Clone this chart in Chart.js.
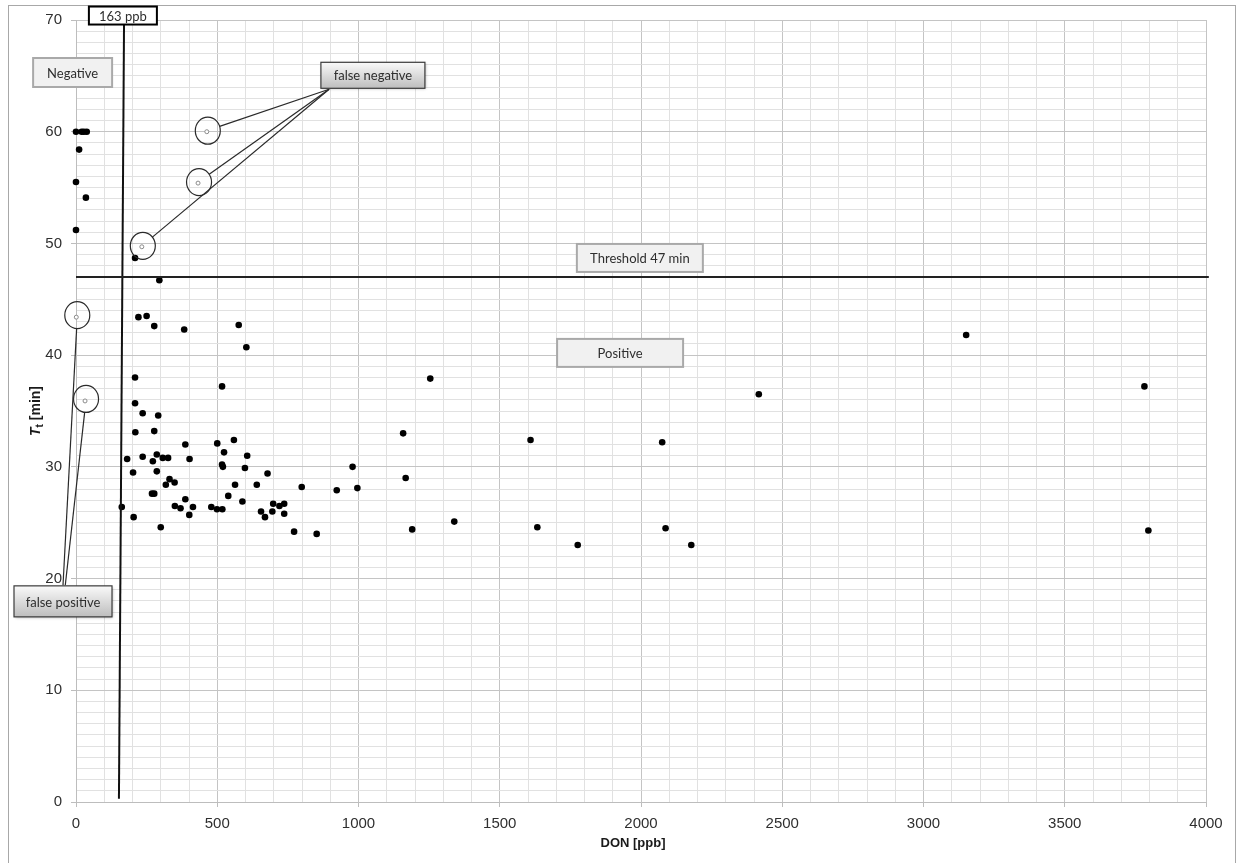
<!DOCTYPE html>
<html>
<head>
<meta charset="utf-8">
<script src="https://cdn.jsdelivr.net/npm/chart.js@4.4.1/dist/chart.umd.min.js"></script>
<style>
  body { margin: 0; background: #fff; overflow: hidden; }
  #wrap { position: relative; width: 1237px; height: 863px; }
  #frame { position: absolute; left: 8px; top: 5px; width: 1228px; height: 880px; border: 1px solid #a8a8a8; box-sizing: border-box; }
  canvas { position: absolute; left: 0; top: 0; }
</style>
</head>
<body>
<div id="wrap">
  <div id="frame"></div>
  <canvas id="chart" width="1237" height="863"></canvas>
</div>
<script>
// samples left of the cut-off (negative)
const negDon = [0, 20, 28, 38, 11, 0, 35, 0];
const negTt = [60.0, 60.0, 60.0, 60.0, 58.4, 55.5, 54.1, 51.2];

// remaining samples
const posDon = [209, 295, 221, 250, 277, 383, 576, 603, 209, 517, 209, 236, 291, 210, 277, 387, 500, 559, 524, 286,
  606, 181, 236, 307, 326, 402, 272, 517, 520, 598, 979, 202, 286, 678, 1167, 1158, 331, 349, 318, 563,
  640, 799, 996, 923, 269, 277, 539, 387, 589, 162, 350, 370, 414, 479, 499, 518, 698, 720, 737, 695,
  655, 737, 669, 401, 204, 300, 772, 852, 1190, 1254, 1339, 1609, 1633, 1776, 2075, 2087, 2178, 2417, 3151, 3782, 3796];
const posTt = [48.7, 46.7, 43.4, 43.5, 42.6, 42.3, 42.7, 40.7, 38.0, 37.2, 35.7, 34.8, 34.6, 33.1, 33.2, 32.0, 32.1, 32.4, 31.3, 31.1,
  31.0, 30.7, 30.9, 30.8, 30.8, 30.7, 30.5, 30.2, 30.0, 29.9, 30.0, 29.5, 29.6, 29.4, 29.0, 33.0, 28.9, 28.6, 28.4, 28.4,
  28.4, 28.2, 28.1, 27.9, 27.6, 27.6, 27.4, 27.1, 26.9, 26.4, 26.5, 26.3, 26.4, 26.4, 26.2, 26.2, 26.7, 26.5, 26.7, 26.0,
  26.0, 25.8, 25.5, 25.7, 25.5, 24.6, 24.2, 24.0, 24.4, 37.9, 25.1, 32.4, 24.6, 23.0, 32.2, 24.5, 23.0, 36.5, 41.8, 37.2, 24.3];

// misclassified samples (drawn hollow and circled)
const falseNegDon = [463, 432, 233];
const falseNegTt = [60.0, 55.4, 49.7];
const falsePosDon = [1, 32];
const falsePosTt = [43.4, 35.9];

// threshold lines
const thresholdTt = 47;
const thresholdDon = [0, 4010];
const cutoffDon = [152, 170];   // drawn "163 ppb" line is slightly tilted
const cutoffTt = [0.3, 69.6];

const xTicks = { min: 0, max: 4000, step: 100, major: 500 };
const yTicks = { min: 0, max: 70, step: 1, major: 10 };

// label boxes: [text, don, tt, width, height, style]
const boxes = [
  ['Negative', -12, 65.3, 79, 29, 'plain'],
  ['false negative', 1051, 65.05, 104, 26, 'shade'],
  ['Threshold 47 min', 1996, 48.7, 126, 28, 'plain'],
  ['Positive', 1926, 40.2, 126, 28, 'plain'],
  ['false positive', -46, 17.96, 98, 31, 'shade'],
  ['163 ppb', 166, 70.4, 68, 18, 'outline']
];
const falseNegTarget = [896, 63.8];
const falsePosTarget = [[-46, 19.4], [-38, 19.4]];

const toPts = (xs, ys) => xs.map((v, i) => ({ x: v, y: ys[i] }));

const annot = {
  id: 'annot',
  afterDatasetsDraw(chart) {
    const { ctx, scales: { x, y } } = chart;
    const px = v => x.getPixelForValue(v);
    const py = v => y.getPixelForValue(v);
    ctx.save();
    ctx.strokeStyle = '#2a2a2a';
    ctx.lineWidth = 1.2;

    function ring(cx, cy, targets) {
      const rx = 12.5, ry = 13.5;
      ctx.beginPath();
      ctx.ellipse(cx, cy, rx, ry, 0, 0, Math.PI * 2);
      ctx.stroke();
      targets.forEach(t => {
        const ex = px(t[0]), ey = py(t[1]);
        const a = Math.atan2(ey - cy, ex - cx);
        ctx.beginPath();
        ctx.moveTo(cx + rx * Math.cos(a), cy + ry * Math.sin(a));
        ctx.lineTo(ex, ey);
        ctx.stroke();
      });
    }
    falseNegDon.forEach((d, i) => ring(px(d) + 1, py(falseNegTt[i]) - 1, [falseNegTarget]));
    falsePosDon.forEach((d, i) => ring(px(d) + 1, py(falsePosTt[i]) - 2, [falsePosTarget[i]]));

    ctx.font = '13px Lato';
    ctx.textAlign = 'center';
    ctx.textBaseline = 'middle';
    boxes.forEach(([text, d, t, w, h, style]) => {
      const cx = px(d), cy = py(t);
      const l = cx - w / 2, tp = cy - h / 2;
      if (style === 'plain') {
        ctx.fillStyle = '#f1f1f1';
        ctx.fillRect(l, tp, w, h);
        ctx.strokeStyle = '#a9a9a9';
        ctx.lineWidth = 2;
        ctx.strokeRect(l, tp, w, h);
      } else if (style === 'shade') {
        const g = ctx.createLinearGradient(0, tp, 0, tp + h);
        g.addColorStop(0, '#fafafa');
        g.addColorStop(1, '#bdbdbd');
        ctx.shadowColor = 'rgba(0,0,0,0.35)';
        ctx.shadowBlur = 3;
        ctx.shadowOffsetX = 1;
        ctx.shadowOffsetY = 1;
        ctx.fillStyle = g;
        ctx.fillRect(l, tp, w, h);
        ctx.shadowColor = 'transparent';
        ctx.strokeStyle = '#3c3c3c';
        ctx.lineWidth = 1.2;
        ctx.strokeRect(l, tp, w, h);
      } else {
        ctx.fillStyle = '#fff';
        ctx.fillRect(l, tp, w, h);
        ctx.strokeStyle = '#000';
        ctx.lineWidth = 2;
        ctx.strokeRect(l, tp, w, h);
      }
      ctx.fillStyle = '#2e2e2e';
      ctx.fillText(text, cx, cy + 1);
    });
    ctx.restore();
  },
  afterDraw(chart) {
    const { ctx, chartArea } = chart;
    ctx.save();
    ctx.fillStyle = '#1a1a1a';
    ctx.textBaseline = 'middle';
    ctx.font = 'bold 13px "Liberation Sans"';
    ctx.textAlign = 'center';
    ctx.fillText('DON [ppb]', (chartArea.left + chartArea.right) / 2 - 8, chartArea.bottom + 41);

    // rotated y title with subscript
    ctx.translate(36, (chartArea.top + chartArea.bottom) / 2);
    ctx.rotate(-Math.PI / 2);
    const f1 = 'italic bold 14px "Liberation Sans"';
    const f2 = 'bold 10px "Liberation Sans"';
    const f3 = 'bold 14px "Liberation Sans"';
    ctx.font = f1; const w1 = ctx.measureText('T').width;
    ctx.font = f2; const w2 = ctx.measureText('t').width;
    ctx.font = f3; const w3 = ctx.measureText(' [min]').width;
    let sx = -(w1 + w2 + w3) / 2;
    ctx.textAlign = 'left';
    ctx.font = f1; ctx.fillText('T', sx, 0); sx += w1;
    ctx.font = f2; ctx.fillText('t', sx, 4); sx += w2;
    ctx.font = f3; ctx.fillText(' [min]', sx, 0);
    ctx.restore();
  }
};

const tickFont = { family: '"Liberation Sans", Arial', size: 15 };

new Chart(document.getElementById('chart'), {
  type: 'scatter',
  data: {
    datasets: [
      {
        data: thresholdDon.map(d => ({ x: d, y: thresholdTt })),
        showLine: true, borderColor: '#222', borderWidth: 2, pointRadius: 0, clip: false
      },
      {
        data: toPts(cutoffDon, cutoffTt),
        showLine: true, borderColor: '#111', borderWidth: 2, pointRadius: 0, clip: false
      },
      {
        data: toPts(negDon, negTt), clip: false,
        pointRadius: 3.3, backgroundColor: '#000', borderColor: '#000', borderWidth: 0
      },
      {
        data: toPts(posDon, posTt), clip: false,
        pointRadius: 3.3, backgroundColor: '#000', borderColor: '#000', borderWidth: 0
      },
      {
        data: toPts(falseNegDon.concat(falsePosDon), falseNegTt.concat(falsePosTt)), clip: false,
        pointRadius: 2, backgroundColor: '#fff', borderColor: '#8a8a8a', borderWidth: 1
      }
    ]
  },
  options: {
    responsive: false,
    devicePixelRatio: 1,
    animation: false,
    layout: { padding: { top: 20, right: 31, left: 0, bottom: 0 } },
    plugins: { legend: { display: false }, tooltip: { enabled: false } },
    scales: {
      x: {
        type: 'linear', min: xTicks.min, max: xTicks.max,
        afterFit: s => { s.height = 61; },
        ticks: {
          stepSize: xTicks.step, autoSkip: false, maxRotation: 0, maxTicksLimit: 1000,
          padding: 8, color: '#2f2f2f', font: tickFont,
          callback: v => (v % xTicks.major === 0 ? v : '')
        },
        grid: {
          color: c => (c.tick && c.tick.value % xTicks.major === 0 ? '#c4c4c4' : '#e1e1e1'),
          tickColor: c => (c.tick && c.tick.value % xTicks.major === 0 ? '#bdbdbd' : 'rgba(0,0,0,0)'),
          tickLength: 5
        },
        border: { color: '#bdbdbd' }
      },
      y: {
        type: 'linear', min: yTicks.min, max: yTicks.max,
        afterFit: s => { s.width = 76; },
        ticks: {
          stepSize: yTicks.step, autoSkip: false, maxTicksLimit: 1000,
          padding: 9, color: '#2f2f2f', font: tickFont,
          callback: v => (v % yTicks.major === 0 ? v : '')
        },
        grid: {
          color: c => (c.tick && c.tick.value % yTicks.major === 0 ? '#c4c4c4' : '#e1e1e1'),
          tickColor: c => (c.tick && c.tick.value % yTicks.major === 0 ? '#bdbdbd' : 'rgba(0,0,0,0)'),
          tickLength: 5
        },
        border: { color: '#bdbdbd' }
      }
    }
  },
  plugins: [annot]
});
</script>
</body>
</html>
